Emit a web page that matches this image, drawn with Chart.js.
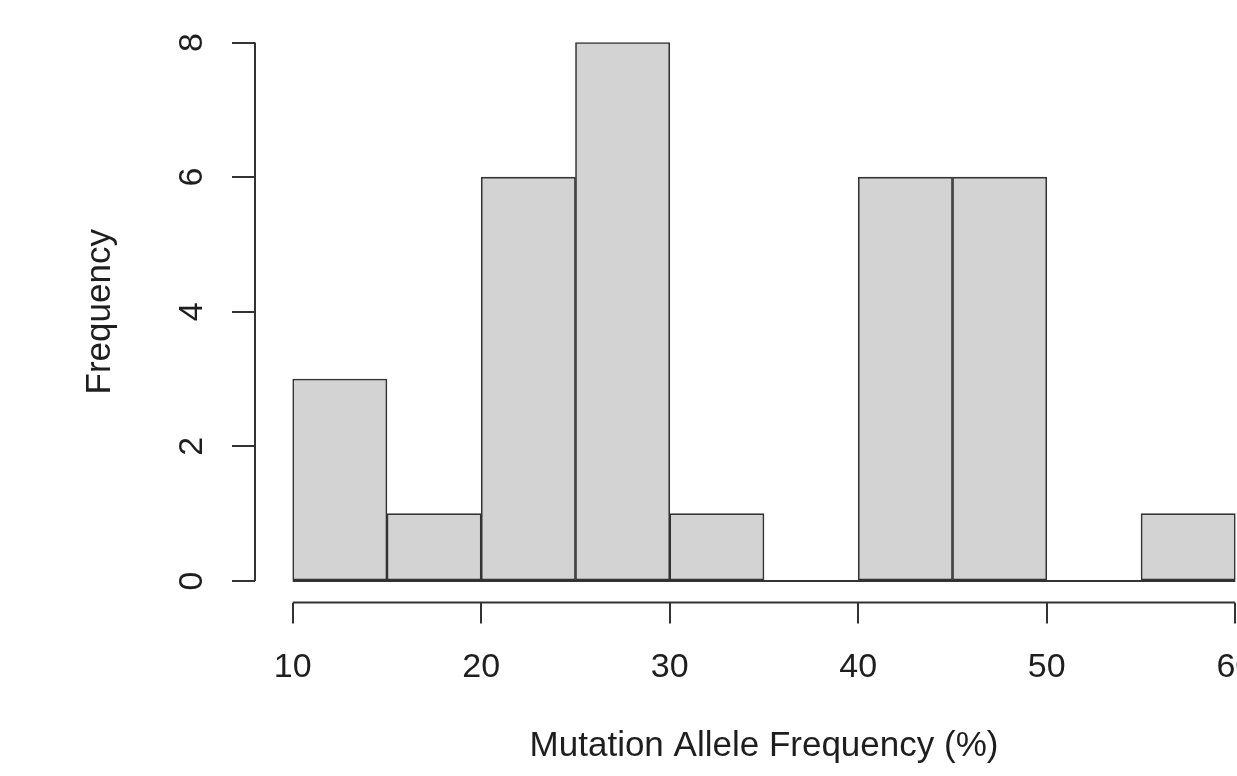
<!DOCTYPE html>
<html>
<head>
<meta charset="utf-8">
<script src="https://cdn.jsdelivr.net/npm/chart.js@4.4.1/dist/chart.umd.min.js"></script>
<style>
  html, body { margin: 0; padding: 0; background: #fff; overflow: hidden; }
  #wrap { width: 1300px; height: 776px; }
</style>
</head>
<body>
<div id="wrap"><canvas id="hist" width="1300" height="776"></canvas></div>
<script>
// histogram bins (edges) and counts
const binEdges = [10, 15, 20, 25, 30, 35, 40, 45, 50, 55, 60];
const counts = [3, 1, 6, 8, 1, 0, 6, 6, 0, 1];
const xTicks = [10, 20, 30, 40, 50, 60];
const yTicks = [0, 2, 4, 6, 8];

const ink = '#333333';
const font = 'Liberation Sans, Arial, Helvetica, sans-serif';

const bars = counts.map((c, i) => ({ x: (binEdges[i] + binEdges[i + 1]) / 2, y: c }));
const baseLine = [
  { x: binEdges[0], y: 0 },
  { x: binEdges[binEdges.length - 1], y: 0 }
];

// R-style axes: lines only span the tick range
const rAxes = {
  id: 'rAxes',
  afterDraw(chart) {
    const { ctx, chartArea, scales: { x, y } } = chart;
    ctx.save();
    ctx.strokeStyle = ink;
    ctx.lineWidth = 2;
    ctx.beginPath();
    ctx.moveTo(chartArea.left, y.getPixelForValue(yTicks[0]));
    ctx.lineTo(chartArea.left, y.getPixelForValue(yTicks[yTicks.length - 1]));
    ctx.moveTo(x.getPixelForValue(xTicks[0]), chartArea.bottom);
    ctx.lineTo(x.getPixelForValue(xTicks[xTicks.length - 1]), chartArea.bottom);
    ctx.stroke();
    ctx.restore();
  }
};

new Chart(document.getElementById('hist'), {
  type: 'bar',
  data: {
    datasets: [
      {
        type: 'line',
        data: baseLine,
        borderColor: ink,
        borderWidth: 2,
        pointRadius: 0,
        order: 2
      },
      {
        data: bars,
        backgroundColor: '#d3d3d3',
        borderColor: ink,
        borderWidth: 1.6,
        borderSkipped: false,
        barPercentage: 1,
        categoryPercentage: 1,
        order: 1
      }
    ]
  },
  options: {
    responsive: false,
    animation: false,
    layout: { padding: { left: 0, top: 21, right: 27, bottom: 0 } },
    plugins: { legend: { display: false }, tooltip: { enabled: false } },
    scales: {
      x: {
        type: 'linear',
        min: 8,
        max: 62,
        offset: false,
        afterBuildTicks: s => { s.ticks = xTicks.map(v => ({ value: v })); },
        afterFit: s => { s.height = 173.5; s.paddingLeft = 0; s.paddingRight = 0; },
        border: { display: false },
        grid: { offset: false, drawOnChartArea: false, drawTicks: true, tickLength: 21, color: ink, lineWidth: 2 },
        ticks: { color: '#1e1e1e', font: { family: font, size: 34 }, padding: 24, maxRotation: 0 },
        title: {
          display: true,
          text: 'Mutation Allele Frequency (%)',
          color: '#1e1e1e',
          font: { family: font, size: 35 },
          padding: { top: 0, bottom: 9 }
        }
      },
      y: {
        min: -0.32,
        max: 8.32,
        afterBuildTicks: s => { s.ticks = yTicks.map(v => ({ value: v })); },
        afterFit: s => { s.width = 255; s.paddingTop = 0; s.paddingBottom = 0; },
        border: { display: false },
        grid: { drawOnChartArea: false, drawTicks: true, tickLength: 23, color: ink, lineWidth: 2 },
        ticks: {
          color: '#1e1e1e',
          font: { family: font, size: 34 },
          minRotation: 90,
          maxRotation: 90,
          crossAlign: 'center',
          padding: 30
        },
        title: {
          display: true,
          text: 'Frequency',
          color: '#1e1e1e',
          font: { family: font, size: 35 },
          padding: { top: 79, bottom: 0 }
        }
      }
    }
  },
  plugins: [rAxes]
});
</script>
</body>
</html>
